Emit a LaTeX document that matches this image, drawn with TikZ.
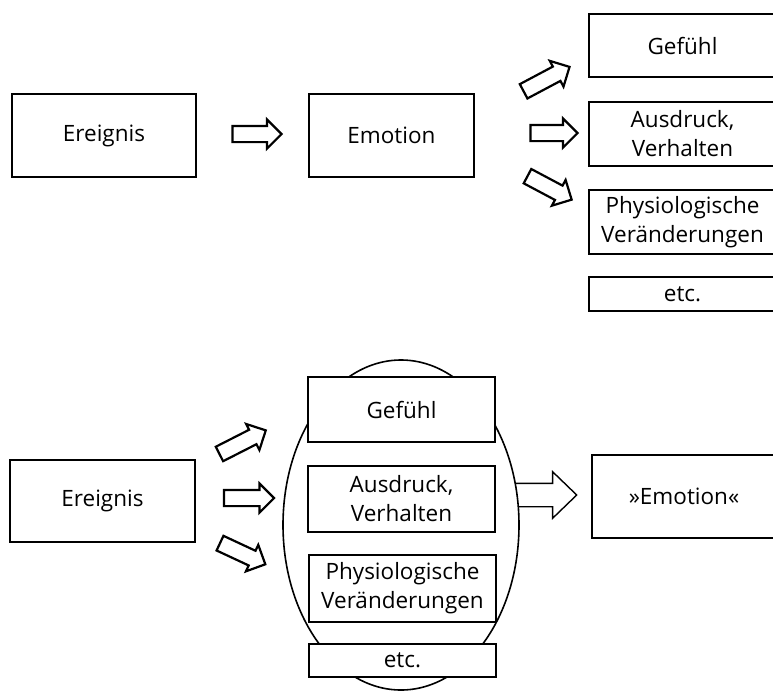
\documentclass[tikz,border=0pt]{standalone}
\usepackage{fontspec}
\setmainfont{Open Sans}
\usetikzlibrary{shapes.arrows,shapes.geometric}
\begin{document}
\begin{tikzpicture}[x=1pt,y=-1pt,
  box/.style={draw, line width=1.6pt, fill=white, rectangle, inner sep=0pt, align=center,
    font=\fontsize{22.5}{29}\selectfont},
  blockarr/.style={draw, single arrow, fill=white, line width=2.2pt,
    inner xsep=0pt, inner ysep=7pt,
    single arrow head extend=6.5pt, single arrow tip angle=90},
  bigarr/.style={draw, single arrow, fill=white, line width=1.4pt,
    inner xsep=0pt, inner ysep=11pt,
    single arrow head extend=11.5pt, single arrow tip angle=88}]
\useasboundingbox (0,0) rectangle (773,691);
\clip (0,0) rectangle (773,691);

% ---------- top diagram ----------
\node[box, minimum width=184pt, minimum height=83pt] (ev1) at (104,135.5) {Ereignis};
\node[blockarr, minimum height=49pt] (ar1) at (253,134) {};
\node[box, minimum width=165pt, minimum height=83pt] (em1) at (391.5,135.5) {Emotion};

\node[blockarr, minimum height=52pt, rotate=28] (ar2) at (543,81) {};
\node[blockarr, minimum height=47pt] (ar3) at (550,133) {};
\node[blockarr, minimum height=50pt, rotate=-28] (ar4) at (546,186) {};

\node[box, minimum width=187pt, minimum height=63pt] (g1) at (682.5,45.5) {Gefühl};
\node[box, minimum width=187pt, minimum height=64pt] (a1) at (682.5,134) {Ausdruck,\\Verhalten};
\node[box, minimum width=187pt, minimum height=64pt] (p1) at (682.5,222) {Physiologische\\Veränderungen};
\node[box, minimum width=187pt, minimum height=34pt] (e1) at (682.5,294) {etc.};

% ---------- bottom diagram ----------
\node[box, minimum width=185pt, minimum height=82pt] (ev2) at (102.5,501) {Ereignis};
\node[blockarr, minimum height=52pt, rotate=27] (br1) at (239,444) {};
\node[blockarr, minimum height=50pt] (br2) at (245,498) {};
\node[blockarr, minimum height=50pt, rotate=-25] (br3) at (239,552) {};

\node[bigarr, minimum height=71pt, anchor=tail] (big) at (505,495) {};
\node[draw, ellipse, line width=1.6pt, fill=white, inner sep=0pt,
      minimum width=236pt, minimum height=330pt] (oval) at (401,525) {};

\node[box, minimum width=187pt, minimum height=65pt] (g2) at (401.5,409.5) {Gefühl};
\node[box, minimum width=187pt, minimum height=66pt] (a2) at (401.5,499) {Ausdruck,\\Verhalten};
\node[box, minimum width=187pt, minimum height=67pt] (p2) at (402.5,588.5) {Physiologische\\Veränderungen};
\node[box, minimum width=187pt, minimum height=33pt] (e2) at (402.5,660.5) {etc.};

\node[box, minimum width=184pt, minimum height=83pt] (em2) at (684,496.5) {»Emotion«};
\end{tikzpicture}
\end{document}
